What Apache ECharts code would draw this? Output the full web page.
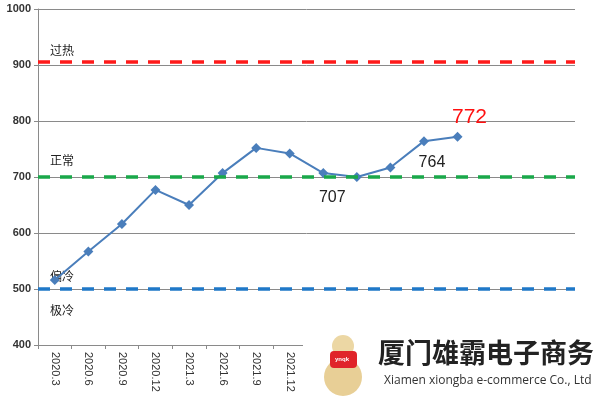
<!DOCTYPE html>
<html lang="zh">
<head>
    <meta charset="UTF-8">
    <title>指数走势</title>
    <script src="https://cdn.jsdelivr.net/npm/echarts@6/dist/echarts.min.js"></script>
    <style>
        body { margin: 0; background: #fff; }
        #main { width: 600px; height: 398px; }
    </style>
</head>
<body>
    <div id="main"></div>
    <script>
        // 季度
        var categories = ['2020.3', '2020.6', '2020.9', '2020.12', '2021.3', '2021.6', '2021.9', '2021.12',
            '2022.3', '2022.6', '2022.9', '2022.12', '2023.3', '2023.6', '2023.9', '2023.12'];
        // 指数值
        var values = [516, 567, 616, 677, 650, 707, 752, 742, 707, 700, 717, 764, 772];
        // 参考线
        var levels = [905, 700, 500];
        var levelColors = ['#ff1a1a', '#1aa84a', '#1f78c8'];

        var chart = echarts.init(document.getElementById('main'));

        var seriesData = values.map(function (v, i) {
            if (i === 8) {
                return { value: v, label: { show: true, position: 'inside', offset: [9, 25], formatter: '{c}', fontSize: 16, color: '#222' } };
            }
            if (i === 11) {
                return { value: v, label: { show: true, position: 'inside', offset: [8, 21], formatter: '{c}', fontSize: 16, color: '#222' } };
            }
            if (i === 12) {
                return { value: v, label: { show: true, position: 'inside', offset: [12, -19], formatter: '{c}', fontSize: 21, color: '#ff1010' } };
            }
            return v;
        });

        var option = {
            animation: false,
            textStyle: { fontFamily: 'Liberation Sans, "Noto Sans CJK SC", sans-serif' },
            grid: { left: 38, right: 25, top: 9, bottom: 53 },
            xAxis: {
                type: 'category',
                data: categories,
                boundaryGap: true,
                axisLine: { lineStyle: { color: '#8a8a8a', width: 1 } },
                axisTick: { show: true, interval: 0, length: 4, lineStyle: { color: '#8a8a8a' } },
                axisLabel: { interval: 0, rotate: -90, fontSize: 11, color: '#333', margin: 7 }
            },
            yAxis: {
                type: 'value',
                min: 400,
                max: 1000,
                interval: 100,
                axisLine: { show: true, lineStyle: { color: '#8a8a8a', width: 1 } },
                axisTick: { show: true, length: 4, lineStyle: { color: '#8a8a8a' } },
                axisLabel: {
                    fontSize: 11, color: '#333', fontWeight: 'bold', margin: 7,
                    formatter: function (v) { return String(v); }
                },
                splitLine: { lineStyle: { color: '#8a8a8a', width: 1 } }
            },
            series: [{
                type: 'line',
                data: seriesData,
                symbol: 'diamond',
                symbolSize: 10,
                itemStyle: { color: '#4a7ebb' },
                lineStyle: { color: '#4a7ebb', width: 2 },
                markLine: {
                    silent: true,
                    symbol: 'none',
                    label: { show: false },
                    data: levels.map(function (y, i) {
                        return { yAxis: y, lineStyle: { color: levelColors[i], type: [12, 10], width: 3.5 } };
                    })
                }
            }],
            graphic: [
                { type: 'text', left: 50, top: 44, style: { text: '过热', fontSize: 12, fill: '#222', fontFamily: 'Noto Sans CJK SC' } },
                { type: 'text', left: 50, top: 154, style: { text: '正常', fontSize: 12, fill: '#222', fontFamily: 'Noto Sans CJK SC' } },
                { type: 'text', left: 50, top: 270, style: { text: '偏冷', fontSize: 12, fill: '#222', fontFamily: 'Noto Sans CJK SC' } },
                { type: 'text', left: 50, top: 304, style: { text: '极冷', fontSize: 12, fill: '#222', fontFamily: 'Noto Sans CJK SC' } },
                // 水印
                { type: 'rect', shape: { x: 303, y: 334, width: 297, height: 64 }, style: { fill: '#fff' }, z: 100 },
                { type: 'ellipse', shape: { cx: 343, cy: 377, rx: 19, ry: 19 }, style: { fill: '#e8cf96' }, z: 101 },
                { type: 'circle', shape: { cx: 343, cy: 346, r: 11 }, style: { fill: '#ecd7a4' }, z: 102 },
                { type: 'rect', shape: { x: 330, y: 351, width: 27, height: 17, r: 4 }, style: { fill: '#e0242a' }, z: 102 },
                { type: 'text', style: { x: 335, y: 356, text: 'ynqk', fontSize: 6, fill: '#fff', fontWeight: 'bold' }, z: 103 },
                { type: 'text', style: { x: 378, y: 339, text: '厦门雄霸电子商务', fontSize: 27, fontWeight: 'bold', fill: '#222', fontFamily: 'Noto Sans CJK SC' }, z: 101 },
                { type: 'text', style: { x: 384, y: 375, text: 'Xiamen xiongba e-commerce Co., Ltd', fontSize: 12, fill: '#333', fontFamily: 'Open Sans' }, z: 101 }
            ]
        };

        chart.setOption(option);
    </script>
</body>
</html>
